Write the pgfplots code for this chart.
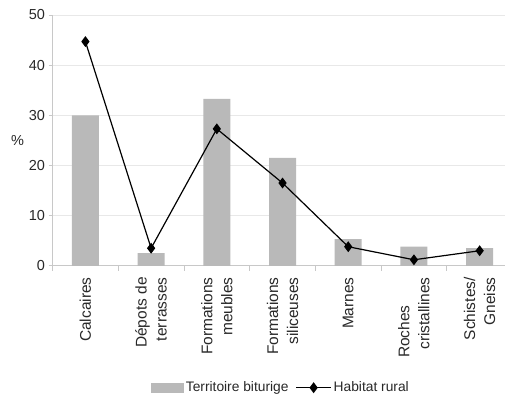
\documentclass[border=0pt]{standalone}
\usepackage{pgfplots}
\pgfplotsset{compat=1.18}
\usepackage{fontspec}
\setmainfont{Liberation Sans}
\definecolor{bargray}{RGB}{185,185,185}
\definecolor{gridgray}{RGB}{232,232,232}
\definecolor{axisgray}{RGB}{200,200,200}
\definecolor{txt}{RGB}{40,40,40}
\pgfplotsset{
  barlegend/.style={legend image code/.code={\fill[bargray] (0pt,-5pt) rectangle (33pt,5pt);}},
  linelegend/.style={legend image code/.code={\draw[mark repeat=2,mark phase=2,##1] plot coordinates {(0pt,0pt) (17.5pt,0pt) (35pt,0pt)};}},
}
\begin{document}
\begin{tikzpicture}
\begin{axis}[
  at={(0,0)}, anchor=south west,
  scale only axis, width=452.4pt, height=251pt,
  xmin=-0.5, xmax=6.38, ymin=0, ymax=50,
  ytick={0,10,...,50},
  xtick={0,...,6},
  xticklabels={Calcaires, {Dépots de\\terrasses}, {Formations\\meubles}, {Formations\\siliceuses}, Marnes, {Roches\hspace*{28pt}\\cristallines}, {Schistes/\\Gneiss}},
  minor xtick={-0.5,0.5,...,5.5},
  major x tick style={draw=none},
  minor tick length=5pt,
  major tick length=4pt,
  tick align=outside,
  axis x line*=bottom, axis y line*=left,
  axis line style={axisgray, line width=0.8pt},
  tick style={axisgray, line width=0.8pt},
  ymajorgrids, grid style={gridgray, line width=0.8pt},
  /pgf/number format/assume math mode=true,
  ticklabel style={font=\fontsize{14.5}{17}\selectfont, text=txt},
  x tick label style={rotate=90, anchor=east, align=right, font=\fontsize{15.5}{20}\selectfont},
  xticklabel shift={4pt},
  ylabel={\%}, ylabel style={rotate=-90, at={(axis description cs:0,0.5)}, anchor=center, xshift=-35pt, font=\fontsize{14.5}{17}\selectfont, text=txt},
  legend style={at={(0.505,-0.486)}, anchor=center, draw=none, legend columns=2, font=\fontsize{13.8}{17}\selectfont, text=txt,
    /tikz/every even column/.append style={column sep=5pt}, inner sep=0pt, row sep=0pt},
]
\addplot[ybar, bar width=27pt, fill=bargray, draw=none, barlegend]
  coordinates {(0,30) (1,2.5) (2,33.3) (3,21.5) (4,5.3) (5,3.8) (6,3.5)};
\addlegendentry{Territoire biturige}
\addplot[black, line width=1.2pt, mark=diamond*, mark size=4.5pt, linelegend]
  coordinates {(0,44.7) (1,3.5) (2,27.3) (3,16.5) (4,3.8) (5,1.2) (6,3.0)};
\addlegendentry{Habitat rural}
\end{axis}
\path[use as bounding box] (-52.6pt,-137pt) rectangle (452.4pt,266pt);
\end{tikzpicture}
\end{document}
